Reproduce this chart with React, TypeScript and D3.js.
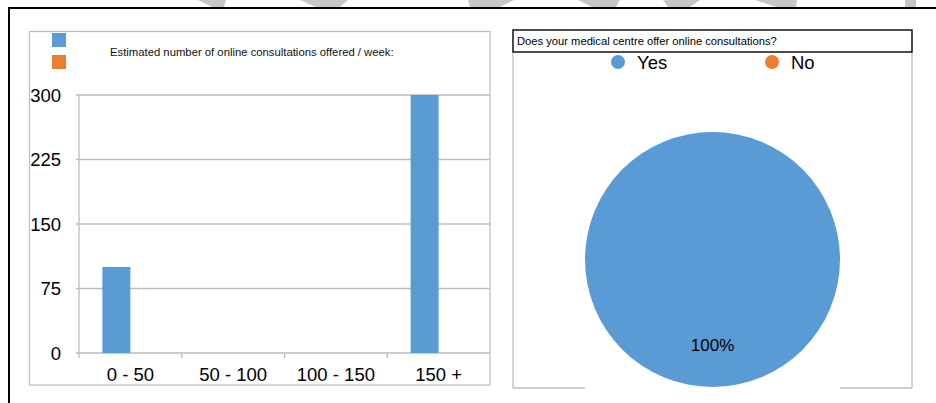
import { scaleBand, scaleLinear, pie, arc } from 'd3'

const W = 936
const H = 403
const FONT = '"Liberation Sans", Arial, sans-serif'

const categories = ['0 - 50', '50 - 100', '100 - 150', '150 +']
const seriesKeys = ['blue', 'orange']
const blueValues = [100, 0, 0, 300]
const orangeValues = [0, 0, 0, 0]
const yTicks = [0, 75, 150, 225, 300]

const pieLabels = ['Yes', 'No']
const pieValues = [100, 0]

const BLUE = '#5b9bd5'
const ORANGE = '#ed7d31'
const GRID = '#bdbdbd'

// grey watermark shapes peeking in above the frame: [topLeft, topRight, bottomLeft, bottomRight]
const marks = [
  [198, 226, 212, 224],
  [300, 348, 316, 340],
  [468, 514, 470, 500],
  [578, 620, 592, 616],
  [663, 700, 668, 690],
  [755, 797, 776, 796],
  [905, 916, 905, 916],
]

// bar chart geometry
const BX = { left: 79, right: 490, top: 95, bottom: 353 }
const BAR_W = 28

// pie geometry
const PIE = { cx: 712.5, cy: 259.5, r: 127.5 }

export default function App() {
  const x0 = scaleBand().domain(categories).range([BX.left, BX.right])
  const bw = x0.bandwidth()
  const x1 = scaleBand()
    .domain(seriesKeys)
    .range([(bw - BAR_W * 2) / 2, (bw + BAR_W * 2) / 2])
  const y = scaleLinear().domain([0, 300]).range([BX.bottom, BX.top])

  const rows = categories.map((c, i) => ({ c, blue: blueValues[i], orange: orangeValues[i] }))

  const slices = pie<number>().sort(null)(pieValues)
  const sliceArc = arc<any>().innerRadius(0).outerRadius(PIE.r)
  const labelArc = arc<any>().innerRadius(PIE.r * 0.67).outerRadius(PIE.r * 0.67)
  const total = pieValues.reduce((a, b) => a + b, 0)

  return (
    <svg
      width={W}
      height={H}
      style={{ position: 'absolute', left: 0, top: 0, background: '#fff', fontFamily: FONT }}
    >
      {marks.map((m, i) => (
        <polygon key={i} points={`${m[0]},0 ${m[1]},0 ${m[3]},7 ${m[2]},7`} fill="#c6c6c6" />
      ))}
      <path d={`M9,${H} V8 H${W}`} fill="none" stroke="#000" strokeWidth={2} />

      {/* left panel: bar chart */}
      <rect x={29.5} y={31.5} width={460.5} height={353.5} fill="#fff" stroke={GRID} strokeWidth={1.2} />
      <rect x={52} y={33} width={14} height={14} fill={BLUE} />
      <rect x={52} y={55} width={14} height={14} fill={ORANGE} />
      <text x={110} y={56} fontSize={11.3} fill="#111">
        Estimated number of online consultations offered / week:
      </text>

      {yTicks.map((t) => (
        <g key={t}>
          <line x1={BX.left - 3} x2={BX.right} y1={y(t)} y2={y(t)} stroke={GRID} strokeWidth={1.3} />
          <text x={61} y={y(t)} dy="0.36em" textAnchor="end" fontSize={18.5} fill="#000">
            {t}
          </text>
        </g>
      ))}
      <line x1={BX.left} x2={BX.left} y1={BX.top} y2={BX.bottom} stroke={GRID} strokeWidth={1.3} />
      {categories.map((c) => (
        <line
          key={`tk${c}`}
          x1={x0(c)!}
          x2={x0(c)!}
          y1={BX.bottom}
          y2={BX.bottom + 5}
          stroke={GRID}
          strokeWidth={1.3}
        />
      ))}
      {rows.map((r) => (
        <g key={r.c} transform={`translate(${x0(r.c)},0)`}>
          {seriesKeys.map((k) => {
            const v = (r as any)[k] as number
            return (
              <rect
                key={k}
                x={x1(k)}
                y={y(v)}
                width={x1.bandwidth()}
                height={y(0) - y(v)}
                fill={k === 'blue' ? BLUE : ORANGE}
              />
            )
          })}
          <text x={bw / 2} y={381} textAnchor="middle" fontSize={18.5} fill="#000">
            {r.c}
          </text>
        </g>
      ))}

      {/* right panel: pie chart */}
      <line x1={513} x2={513} y1={52} y2={388} stroke={GRID} strokeWidth={1.3} />
      <line x1={912} x2={912} y1={52} y2={388} stroke={GRID} strokeWidth={1.3} />
      <line x1={513} x2={912} y1={388} y2={388} stroke={GRID} strokeWidth={1.3} />
      <rect x={513} y={30} width={399} height={22} fill="#fff" stroke="#000" strokeWidth={1.4} />
      <text x={517} y={45} fontSize={11.2} fill="#000">
        Does your medical centre offer online consultations?
      </text>

      {pieLabels.map((l, i) => (
        <g key={l} transform={`translate(${i === 0 ? 618 : 772},62)`}>
          <circle r={7} fill={i === 0 ? BLUE : ORANGE} />
          <text x={19} y={0} dy="0.36em" fontSize={18.5} fill="#000">
            {l}
          </text>
        </g>
      ))}

      <g transform={`translate(${PIE.cx},${PIE.cy})`}>
        <rect x={-PIE.r} y={-PIE.r} width={PIE.r * 2} height={PIE.r * 2 + 3} fill="#fff" />
        {slices.map((s, i) =>
          s.value > 0 ? <path key={i} d={sliceArc(s)!} fill={i === 0 ? BLUE : ORANGE} /> : null
        )}
        {slices.map((s, i) => {
          if (s.value <= 0) return null
          const [lx, ly] = labelArc.centroid(s)
          return (
            <text key={`l${i}`} x={lx} y={ly} dy="0.36em" textAnchor="middle" fontSize={17} fill="#000">
              {Math.round((s.value / total) * 100)}%
            </text>
          )
        })}
      </g>
    </svg>
  )
}
